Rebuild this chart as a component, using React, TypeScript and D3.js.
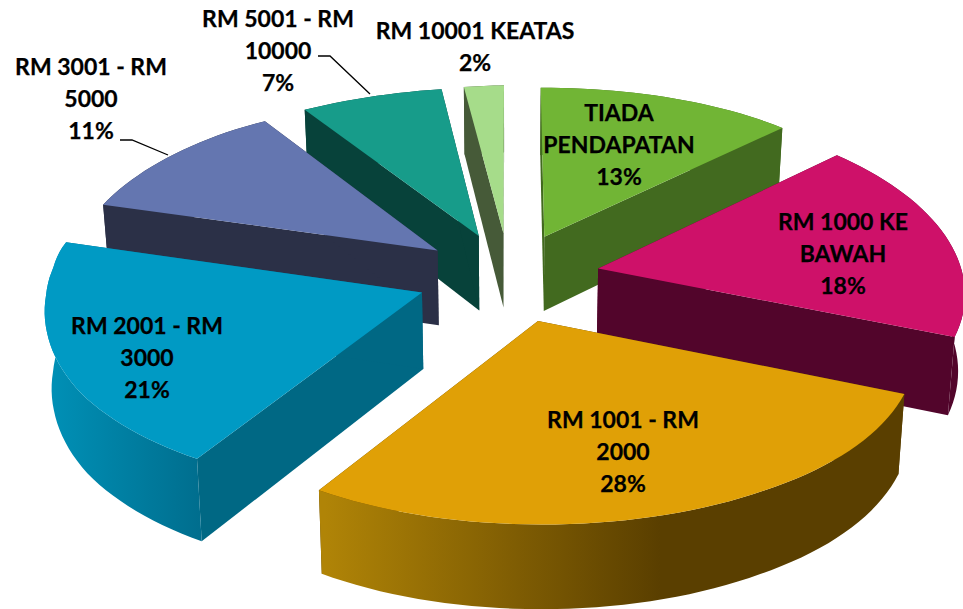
import React from "react";
import * as d3 from "d3";

const names = ["TIADA PENDAPATAN", "RM 1000 KE BAWAH", "RM 1001 - RM 2000", "RM 2001 - RM 3000", "RM 3001 - RM 5000", "RM 5001 - RM 10000", "RM 10001 KEATAS"];
const shares = [13, 18, 28, 21, 11, 7, 2];
const labelLines = [
  ["TIADA", "PENDAPATAN", "13%"],
  ["RM 1000 KE", "BAWAH", "18%"],
  ["RM 1001 - RM", "2000", "28%"],
  ["RM 2001 - RM", "3000", "21%"],
  ["RM 3001 - RM", "5000", "11%"],
  ["RM 5001 - RM", "10000", "7%"],
  ["RM 10001 KEATAS", "2%"],
];
const topColors = ["#71B535", "#CE1169", "#E0A006", "#009AC4", "#6476B0", "#179C8A", "#A6DC8A"];
const sideColors = ["#426A1F", "#52052B", "#5C4000", "#006884", "#2B3047", "#07423A", "#465A38"];
const rimStops = [
  ["#426A1F", "#426A1F"],
  ["#52052B", "#52052B"],
  ["#B08407", "#5A3F00"],
  ["#0090B6", "#006E8E"],
  ["#2B3047", "#2B3047"],
  ["#07423A", "#07423A"],
  ["#465A38", "#465A38"],
];
const rimRanges = [[540, 800], [600, 963], [325, 660], [50, 200], [100, 300], [300, 480], [460, 505]];
const labelX = [619, 843, 623, 147, 91, 278, 475];
const labelY = [113, 222, 420, 326, 67, 19, 31];
const paintOrder = [6, 5, 4, 0, 3, 1, 2];
const leaders = [
  [[120, 140], [132, 140], [168, 155]],
  [[318, 56], [330, 56], [370, 94]],
];

const cx = 509, cy = 277, A = 365, k = 0.116, explode = 0.25;
const verticalScale = d3.scaleLinear().domain([-1.23, -0.915, 0, 0.61, 1.08, 1.24]).range([154, 163, 180, 193, 197, 200]);
const leftWiden = d3.scaleLinear().domain([-1.2, -0.46, -0.22, -0.05, 0.1, 0.3, 0.6, 0.95]).range([1.025, 1.02, 1.05, 1.025, 1.015, 1.008, 1.0, 0.985]).clamp(true);

type P = [number, number];
const project = (U: number, V: number): P => {
  const s = 1 / (1 - k * V);
  const left = Math.max(0, -U);
  const widen = 1 + (leftWiden(V) - 1) * Math.min(1, left);
  const shear = 6 * left * Math.min(1, Math.max(0, -V * 3));
  return [cx + A * U * s * widen, cy + verticalScale(V) * V + shear];
};
const lower = (U: number, V: number): P => {
  const [x, y] = project(U, V);
  return [cx + (x - cx) * 0.985, y + 76 + 7 * V];
};

const arcs = d3.pie<number>().sort(null).startAngle(0).endAngle(2 * Math.PI)(shares);
const path = d3.line<P>();

function slicePoints(a: d3.PieArcDatum<number>) {
  const mid = (a.startAngle + a.endAngle) / 2;
  const ox = Math.sin(mid) * explode;
  const oy = -Math.cos(mid) * explode;
  const n = Math.max(8, Math.round((a.endAngle - a.startAngle) * 30));
  const ts = d3.range(n + 1).map((i) => a.startAngle + ((a.endAngle - a.startAngle) * i) / n);
  const rimWorld = ts.map((t) => [ox + Math.sin(t), oy - Math.cos(t)] as P);
  const rimTop = rimWorld.map(([u, v]) => project(u, v));
  const rimBottom = rimWorld.map(([u, v]) => lower(u, v));
  return { apexTop: project(ox, oy), apexBottom: lower(ox, oy), rimTop, rimBottom };
}

export default function App() {
  return (
    <svg width={963} height={609} style={{ position: "absolute", left: 0, top: 0, background: "#fff" }}>
      <title>{names.join(", ")}</title>
      <defs>
        {rimStops.map((st, i) => (
          <linearGradient key={i} id={`rim${i}`} gradientUnits="userSpaceOnUse" x1={rimRanges[i][0]} x2={rimRanges[i][1]} y1={0} y2={0}>
            <stop offset="0" stopColor={st[0]} />
            <stop offset="1" stopColor={st[1]} />
          </linearGradient>
        ))}
      </defs>
      {paintOrder.map((i) => {
        const p = slicePoints(arcs[i]);
        const last = p.rimTop.length - 1;
        const wallA: P[] = [p.apexTop, p.rimTop[0], p.rimBottom[0], p.apexBottom];
        const wallB: P[] = [p.apexTop, p.rimTop[last], p.rimBottom[last], p.apexBottom];
        const rim: P[] = [...p.rimTop, ...[...p.rimBottom].reverse()];
        const top: P[] = [p.apexTop, ...p.rimTop];
        return (
          <g key={i}>
            <path d={path(wallA) + "Z"} fill={sideColors[i]} />
            <path d={path(wallB) + "Z"} fill={sideColors[i]} />
            <path d={path(rim) + "Z"} fill={`url(#rim${i})`} />
            <path d={path(top) + "Z"} fill={topColors[i]} />
          </g>
        );
      })}
      {leaders.map((l, i) => (
        <path key={i} d={path(l as P[]) ?? ""} fill="none" stroke="#000" strokeWidth={1.3} />
      ))}
      {labelLines.map((lines, i) => (
        <text key={i} textAnchor="middle" fontFamily="Lato, Carlito, sans-serif" fontWeight={700} fontSize={23} stroke="#000" strokeWidth={0.25} fill="#000">
          {lines.map((t, j) => (
            <tspan key={j} x={labelX[i]} y={labelY[i] + j * 32} dy="0.36em">{t}</tspan>
          ))}
        </text>
      ))}
    </svg>
  );
}
